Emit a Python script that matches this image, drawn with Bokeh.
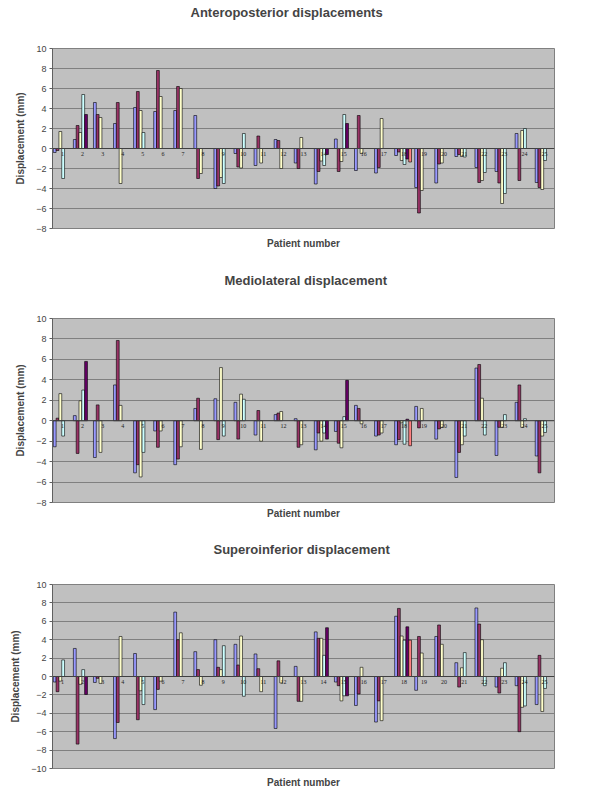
from bokeh.plotting import figure
from bokeh.models import ColumnDataSource, FactorRange, Range1d, FixedTicker, Title, Span
from bokeh.core.properties import value
from bokeh.transform import dodge
from bokeh.layouts import column
from bokeh.embed import file_html
from bokeh.resources import INLINE

patients = [str(i) for i in range(1, 26)]
series_colors = ["#9999FF", "#993366", "#FFFFCC", "#CCFFFF", "#660066", "#FF8080"]
N = None

# Anteroposterior displacements (mm)
ap_s1 = [-0.4, 0.9, 4.6, 2.5, 4.1, 3.7, 3.8, 3.3, -4.0, -0.5, -1.7, 0.9, -1.45, -3.55, 0.95, -2.2, -2.45, -0.7, -3.9, -3.45, -0.8, -1.9, -2.3, 1.5, -3.4]
ap_s2 = [-0.2, 2.3, 3.4, 4.6, 5.7, 7.8, 6.2, -3.0, -3.75, -1.85, 1.25, 0.8, -2.0, -2.3, -2.3, 3.3, -1.9, -0.35, -6.45, -1.55, -0.6, -3.4, -3.45, -3.2, -3.9]
ap_s3 = [1.7, 1.6, 3.1, -3.5, 3.8, 5.2, 6.0, -2.5, -2.9, -1.95, -1.45, -2.0, 1.1, -1.25, -1.3, -0.5, 3.0, -1.2, -4.2, -1.45, -0.8, -3.2, -5.5, 1.8, -4.1]
ap_s4 = [-3.0, 5.4, N, N, 1.6, N, N, N, -3.5, 1.5, N, N, N, -1.7, 3.4, N, N, -1.6, N, N, -0.85, -2.4, -4.5, 2.0, -1.2]
ap_s5 = [N, 3.4, N, N, N, N, N, N, N, N, N, N, N, -0.6, 2.5, N, N, -1.05, N, N, N, N, N, N, N]
ap_s6 = [N, N, N, N, N, N, N, N, N, N, N, N, N, N, N, N, N, -1.35, N, N, N, N, N, N, N]

# Mediolateral displacement (mm)
ml_s1 = [-2.55, 0.5, -3.6, 3.5, -5.1, -1.0, -4.3, 1.2, 2.15, 1.8, -1.4, 0.6, 0.2, -2.85, -1.05, 1.5, -1.5, -2.35, 1.4, -1.8, -5.55, 5.15, -3.4, 1.8, -3.45]
ml_s2 = [0.25, -3.2, 1.55, 7.85, -4.3, -2.6, -3.75, 2.2, -1.85, -1.8, 1.0, 0.75, -2.6, -1.2, -2.2, 1.2, -1.4, -1.85, -0.7, -0.8, -3.1, 5.5, -0.65, 3.5, -5.1]
ml_s3 = [2.65, 1.95, -3.1, 1.5, -5.5, -1.0, -2.55, -2.8, 5.2, 2.6, -2.0, 0.9, -2.35, -2.0, -2.65, -0.3, -1.2, -0.2, 1.2, -0.65, -2.35, 2.2, -0.65, -0.65, -1.5]
ml_s4 = [-1.5, 3.0, N, N, -3.1, N, N, N, -1.5, 2.1, N, N, N, -1.2, 0.4, N, N, -2.3, N, N, -1.5, -1.4, 0.6, 0.2, -1.15]
ml_s5 = [N, 5.8, N, N, N, N, N, N, N, N, N, N, N, -1.8, 3.95, N, N, 0.15, N, N, N, N, N, N, N]
ml_s6 = [N, N, N, N, N, N, N, N, N, N, N, N, N, N, N, N, N, -2.45, N, N, N, N, N, N, N]

# Superoinferior displacement (mm)
si_s1 = [-0.6, 3.05, -0.65, -6.75, 2.5, -3.6, 7.0, 2.7, 4.0, 3.5, 2.45, -5.65, 1.1, 4.85, -0.6, -3.15, -4.95, 6.55, -1.5, 4.35, 1.5, 7.45, -1.15, -1.0, -3.05]
si_s2 = [-1.65, -7.35, -0.2, -5.0, -4.7, -1.4, 4.0, 0.75, 1.0, 1.25, 0.85, 1.7, -2.7, 4.15, -1.0, -1.9, -2.65, 7.4, 4.35, 5.6, -1.15, 5.7, -1.8, -6.0, 2.3]
si_s3 = [-0.5, -0.85, -0.75, 4.35, -1.55, -0.5, 4.75, -0.95, 0.75, 4.4, -1.65, -0.7, -2.7, 4.15, -2.65, 1.0, -4.8, 4.4, 2.55, 3.5, 0.95, 4.0, 0.9, -3.35, -3.8]
si_s4 = [1.8, 0.75, N, N, -3.05, N, N, N, 3.35, -2.15, N, N, N, 2.3, -2.1, N, N, 3.95, N, N, 2.6, -1.0, 1.5, -3.2, -1.3]
si_s5 = [N, -1.95, N, N, N, N, N, N, N, N, N, N, N, 5.3, -2.1, N, N, 5.4, N, N, N, N, N, N, N]
si_s6 = [N, N, N, N, N, N, N, N, N, N, N, N, N, N, N, N, N, 3.95, N, N, N, N, N, N, N]

FONT = "Liberation Sans"


def make_panel(title, series, y0, y1, height, left, right, top, bottom,
               title_offset, spacer_standoff, xlabel_standoff):
    p = figure(width=592, height=height,
               x_range=FactorRange(*patients), y_range=Range1d(y0, y1),
               output_backend="svg", toolbar_location=None,
               min_border_left=left, min_border_right=right,
               min_border_top=top, min_border_bottom=bottom,
               background_fill_color="#C0C0C0", border_fill_color="white",
               outline_line_color="#808080", outline_line_width=1)
    # spacer (nearest the frame), then the real title
    p.add_layout(Title(text=" ", text_font=FONT, text_font_size="10px",
                       standoff=spacer_standoff), "above")
    p.add_layout(Title(text=title, align="left", offset=title_offset,
                       text_font=FONT, text_font_size="13px", text_font_style="bold",
                       standoff=0), "above")

    width = 0.14
    for i, vals in enumerate(series):
        xs = [patients[k] for k, v in enumerate(vals) if v is not None]
        ys = [v for v in vals if v is not None]
        src = ColumnDataSource(dict(x=xs, top=ys))
        off = -0.04 + (i - 2.5) * width
        p.vbar(x=dodge("x", off, range=p.x_range), top="top", bottom=0, width=width,
               source=src, fill_color=series_colors[i], line_color="black", line_width=0.6)

    # category axis drawn at the zero line
    p.add_layout(Span(location=0, dimension="width", line_color="#404040", line_width=1))
    lab = ColumnDataSource(dict(x=patients, y=[0] * len(patients), t=patients))
    p.text(x="x", y="y", text="t", source=lab, text_font=value("Liberation Serif"),
           text_font_size="6px", text_align="center", text_baseline="top",
           y_offset=3, text_color="#202020")

    ticks = list(range(y0, y1 + 1, 2))
    p.yaxis.ticker = FixedTicker(ticks=ticks)
    p.ygrid.ticker = FixedTicker(ticks=ticks)
    p.ygrid.grid_line_color = "#808080"
    p.xgrid.visible = False
    p.yaxis.axis_label = "Displacement (mm)"
    p.yaxis.axis_label_text_font = FONT
    p.yaxis.axis_label_text_font_size = "10px"
    p.yaxis.axis_label_text_font_style = "bold"
    p.yaxis.axis_label_standoff = 7
    p.yaxis.major_label_text_font = FONT
    p.yaxis.major_label_text_font_size = "9px"
    p.yaxis.major_label_standoff = 3
    p.yaxis.major_tick_in = 0
    p.yaxis.major_tick_out = 3
    p.yaxis.minor_tick_line_color = None
    p.yaxis.axis_line_color = "#606060"
    p.yaxis.major_tick_line_color = "#606060"

    p.xaxis.visible = False
    p.add_layout(Title(text="Patient number", align="center", text_font=FONT,
                       text_font_size="10px", text_font_style="bold",
                       standoff=xlabel_standoff), "below")
    return p


p1 = make_panel("Anteroposterior displacements",
                [ap_s1, ap_s2, ap_s3, ap_s4, ap_s5, ap_s6], -8, 10,
                270, 52, 25, 48, 42, 138, 16, 14)
p2 = make_panel("Mediolateral displacement",
                [ml_s1, ml_s2, ml_s3, ml_s4, ml_s5, ml_s6], -8, 10,
                268, 49, 31, 48, 36, 172, 18, 6)
p3 = make_panel("Superoinferior displacement",
                [si_s1, si_s2, si_s3, si_s4, si_s5, si_s6], -10, 10,
                256, 52, 38, 46, 26, 161, 15, 12)

layout = column(p1, p2, p3, spacing=0)
open("out.html", "w").write(file_html(layout, INLINE))
